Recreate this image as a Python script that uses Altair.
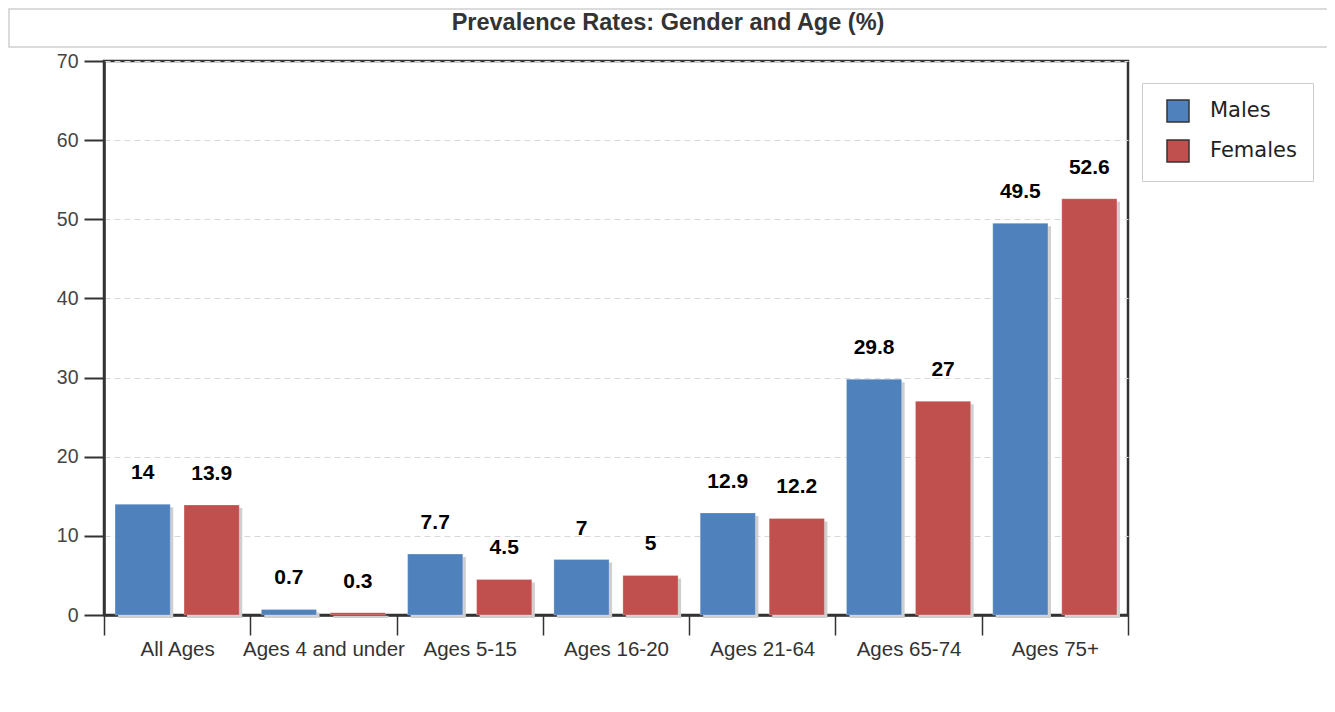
import altair as alt
import pandas as pd

categories = ["All Ages", "Ages 4 and under", "Ages 5-15", "Ages 16-20",
              "Ages 21-64", "Ages 65-74", "Ages 75+"]
males = [14, 0.7, 7.7, 7, 12.9, 29.8, 49.5]
females = [13.9, 0.3, 4.5, 5, 12.2, 27, 52.6]
series = ["Males", "Females"]
colors = ["#4f81bd", "#c0504d"]
title_text = "Prevalence Rates: Gender and Age (%)"

rows = []
for c, m, f in zip(categories, males, females):
    rows.append({"cat": c, "series": "Males", "value": m, "label": f"{m:g}"})
    rows.append({"cat": c, "series": "Females", "value": f, "label": f"{f:g}"})
df = pd.DataFrame(rows)

W, H = 1024, 554
PAD_L, PAD_T = 96, 53
STEP = W / len(categories)

x_enc = alt.X("cat:N", sort=categories, title=None,
              scale=alt.Scale(paddingInner=0, paddingOuter=0),
              axis=alt.Axis(labelAngle=0, tickBand="extent", tickSize=20,
                            tickColor="#333", tickWidth=1.5, domainColor="#333",
                            domainWidth=2.5, labelFontSize=20.5, labelColor="#333",
                            labelFont="Liberation Sans", labelPadding=4, grid=False))
xo_enc = alt.XOffset("series:N", sort=series,
                     scale=alt.Scale(type="band", paddingInner=0.2, paddingOuter=0.16))
xo_shadow = alt.XOffset("series:N", sort=series,
                        scale=alt.Scale(type="band", paddingInner=0.2,
                                        paddingOuter=0.16, range=[3, STEP + 3]))
y_enc = alt.Y("value:Q", title=None,
              scale=alt.Scale(domain=[0, 70], nice=False),
              axis=alt.Axis(values=[0, 10, 20, 30, 40, 50, 60, 70], tickSize=20,
                            tickColor="#333", tickWidth=2, domainColor="#333",
                            domainWidth=2.5, labelFontSize=19.5, labelColor="#444",
                            labelFont="Liberation Sans", labelPadding=6,
                            grid=True, gridColor="#d5d9dd", gridDash=[6, 4],
                            gridWidth=1))

base = alt.Chart(df)

box = alt.Chart(pd.DataFrame({"t": [title_text]})).mark_rect(
    fill="white", stroke="#cfcfcf", strokeWidth=1.5
).encode(x=alt.value(-95), x2=alt.value(1225), y=alt.value(-52), y2=alt.value(-14))

title = alt.Chart(pd.DataFrame({"t": [title_text]})).mark_text(
    font="Liberation Sans", fontWeight="bold", fontSize=23.5, color="#333",
    baseline="middle", align="center"
).encode(x=alt.value(564), y=alt.value(-38), text="t:N")

shadow = base.mark_bar(color="#cfcfcf", yOffset=3).encode(
    x=x_enc, xOffset=xo_shadow, y=y_enc)

bars = base.mark_bar(stroke="white", strokeWidth=0.5, strokeOpacity=0.5).encode(
    x=x_enc, xOffset=xo_enc, y=y_enc,
    color=alt.Color("series:N", sort=series,
                    scale=alt.Scale(domain=series, range=colors),
                    legend=alt.Legend(title=None, orient="none", legendX=1038,
                                      legendY=22, symbolType="square",
                                      symbolSize=484, symbolStrokeColor="#333",
                                      symbolStrokeWidth=1.5, labelFontSize=21,
                                      labelFont="DejaVu Sans", labelColor="#222",
                                      labelOffset=20, rowPadding=12,
                                      symbolOffset=8,
                                      padding=16, strokeColor="#cccccc",
                                      fillColor="white", cornerRadius=0)))

labels = base.mark_text(font="Liberation Sans", fontWeight="bold", fontSize=21,
                        color="black", baseline="alphabetic", dy=-25).encode(
    x=x_enc, xOffset=xo_enc, y=y_enc, text="label:N")

chart = alt.layer(box, title, shadow, alt.layer(bars, labels)).resolve_scale(
    xOffset="independent"
).properties(
    width=W, height=H,
    background="white",
    autosize=alt.AutoSizeParams(type="none"),
    padding={"left": PAD_L, "top": PAD_T, "right": 1319 - PAD_L - W,
             "bottom": 696 - PAD_T - H},
).configure_view(stroke="#333", strokeWidth=2.5)

chart.save("out.html", embed_options={"renderer": "svg", "actions": False})
